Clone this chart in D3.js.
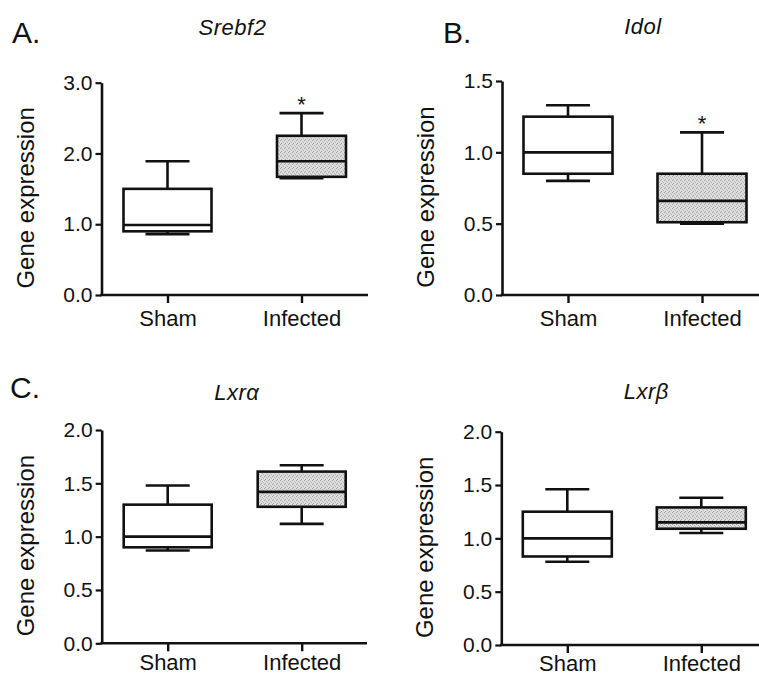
<!DOCTYPE html>
<html>
<head>
<meta charset="utf-8">
<script src="https://cdn.jsdelivr.net/npm/d3@7"></script>
<style>
	body { margin: 0; background: #fff; }
	svg { display: block; font-family: "Liberation Sans", Arial, Helvetica, sans-serif; }
</style>
</head>
<body>
<svg id="chart" width="759" height="675"></svg>
<script>
(function() {
	// data
	var genes = ["Srebf2", "Idol", "Lxr\u03b1", "Lxr\u03b2"],
		letters = ["A.", "B.", "C.", ""],
		groups = ["Sham", "Infected"],
		yMax = [3, 1.5, 2, 2],
		yTicks = [[0, 1, 2, 3], [0, 0.5, 1, 1.5], [0, 0.5, 1, 1.5, 2], [0, 0.5, 1, 1.5, 2]],
		// [whisker low, q1, median, q3, whisker high]
		shamStats = [
			[0.86, 0.90, 0.99, 1.50, 1.89],
			[0.80, 0.85, 1.00, 1.25, 1.33],
			[0.87, 0.90, 1.00, 1.30, 1.48],
			[0.78, 0.83, 1.00, 1.25, 1.46]
		],
		infectedStats = [
			[1.65, 1.67, 1.89, 2.25, 2.57],
			[0.50, 0.51, 0.66, 0.85, 1.14],
			[1.12, 1.28, 1.42, 1.61, 1.67],
			[1.05, 1.09, 1.15, 1.29, 1.38]
		],
		significant = [[false, true], [false, true], [false, false], [false, false]];

	// panel geometry (pixels)
	var panels = [
		{ x0: 101.5, y0: 295, yTop: 82.7, xEnd: 368, titleDx: 131, titleY: 35, letterX: 12, letterY: 43, pad: 7, boxes: [{ w: 88, dx: 0 }, { w: 69, dx: 10 }] },
		{ x0: 502, y0: 295, yTop: 81, xEnd: 762, titleDx: 141, titleY: 34, letterX: 443, letterY: 43, pad: 7, boxes: [{ w: 89, dx: 0 }, { w: 89, dx: 0 }] },
		{ x0: 101.7, y0: 643.3, yTop: 430, xEnd: 367, titleDx: 135, titleY: 400, letterX: 10, letterY: 398, pad: 3, boxes: [{ w: 88, dx: 0 }, { w: 88, dx: 0 }] },
		{ x0: 501.3, y0: 645, yTop: 431.7, xEnd: 762, titleDx: 145, titleY: 399, letterX: 0, letterY: 0, pad: 2, boxes: [{ w: 89, dx: 0 }, { w: 89, dx: 0 }] }
	];

	var capW = 44,
		ink = "#111";

	var svg = d3.select("#chart");

	// speckled grey fill for the infected boxes
	var pat = svg.append("defs").append("pattern")
		.attr("id", "stipple")
		.attr("width", 4).attr("height", 4)
		.attr("patternUnits", "userSpaceOnUse");
	pat.append("rect").attr("width", 4).attr("height", 4).attr("fill", "#dedede");
	[[0, 0], [2, 1], [1, 3], [3, 2]].forEach(function(p, i) {
		pat.append("rect").attr("x", p[0]).attr("y", p[1]).attr("width", 1).attr("height", 1)
			.attr("fill", i % 2 ? "#b4b4b4" : "#a0a0a0");
	});

	panels.forEach(function(p, i) {
		var g = svg.append("g");

		var y = d3.scaleLinear().domain([0, yMax[i]]).range([p.y0, p.yTop]);
		var x = d3.scalePoint().domain(groups).range([p.x0 + 66, p.x0 + 200]);

		// y axis
		var yAxis = g.append("g")
			.attr("transform", "translate(" + p.x0 + ",0)")
			.call(d3.axisLeft(y).tickValues(yTicks[i]).tickFormat(d3.format(".1f"))
				.tickSize(6).tickSizeOuter(0).tickPadding(3));
		yAxis.select(".domain").attr("stroke", ink).attr("stroke-width", 2.6);
		yAxis.selectAll(".tick line").attr("stroke", ink).attr("stroke-width", 2.2);
		yAxis.selectAll(".tick text").attr("fill", ink).style("font-size", "21px");

		// x axis
		var xAxis = g.append("g")
			.attr("transform", "translate(0," + p.y0 + ")")
			.call(d3.axisBottom(x).tickSize(8).tickPadding(p.pad));
		xAxis.select(".domain").remove();
		xAxis.selectAll(".tick line").attr("stroke", ink).attr("stroke-width", 2.4);
		xAxis.selectAll(".tick text").attr("fill", ink).style("font-size", "22px");
		g.append("line")
			.attr("x1", p.x0 - 1.3).attr("x2", p.xEnd)
			.attr("y1", p.y0).attr("y2", p.y0)
			.attr("stroke", ink).attr("stroke-width", 2.6);

		// axis title
		g.append("text")
			.attr("transform", "translate(" + (p.x0 - 68) + "," + ((p.y0 + p.yTop) / 2 + 9) + ") rotate(-90)")
			.attr("text-anchor", "middle")
			.attr("fill", ink)
			.style("font-size", "24px")
			.text("Gene expression");

		// panel title + letter
		g.append("text")
			.attr("x", p.x0 + p.titleDx).attr("y", p.titleY)
			.attr("text-anchor", "middle")
			.attr("fill", ink)
			.style("font-size", "22px").style("font-style", "italic")
			.style("letter-spacing", "0.5px")
			.text(genes[i]);
		if (letters[i]) {
			g.append("text")
				.attr("x", p.letterX).attr("y", p.letterY)
				.attr("fill", ink)
				.style("font-size", "30px")
				.text(letters[i]);
		}

		// boxes
		var stats = [shamStats[i], infectedStats[i]];
		groups.forEach(function(grp, j) {
			var s = stats[j],
				cx = x(grp),
				bw = p.boxes[j].w,
				bx = cx + p.boxes[j].dx - bw / 2,
				b = g.append("g").attr("stroke", ink).attr("stroke-width", 2.6).attr("fill", "none");

			// whiskers
			b.append("line").attr("x1", cx).attr("x2", cx).attr("y1", y(s[4])).attr("y2", y(s[3]));
			b.append("line").attr("x1", cx).attr("x2", cx).attr("y1", y(s[1])).attr("y2", y(s[0]));
			b.append("line").attr("x1", cx - capW / 2).attr("x2", cx + capW / 2).attr("y1", y(s[4])).attr("y2", y(s[4]));
			b.append("line").attr("x1", cx - capW / 2).attr("x2", cx + capW / 2).attr("y1", y(s[0])).attr("y2", y(s[0]));

			// box + median
			b.append("rect")
				.attr("x", bx).attr("width", bw)
				.attr("y", y(s[3])).attr("height", y(s[1]) - y(s[3]))
				.attr("fill", j === 1 ? "url(#stipple)" : "#fff");
			b.append("line").attr("x1", bx).attr("x2", bx + bw).attr("y1", y(s[2])).attr("y2", y(s[2]));

			if (significant[i][j]) {
				g.append("text")
					.attr("x", cx).attr("y", y(s[4]) - 1.5)
					.attr("text-anchor", "middle")
					.attr("fill", ink)
					.style("font-size", "22px")
					.text("*");
			}
		});
	});
})();
</script>
</body>
</html>
